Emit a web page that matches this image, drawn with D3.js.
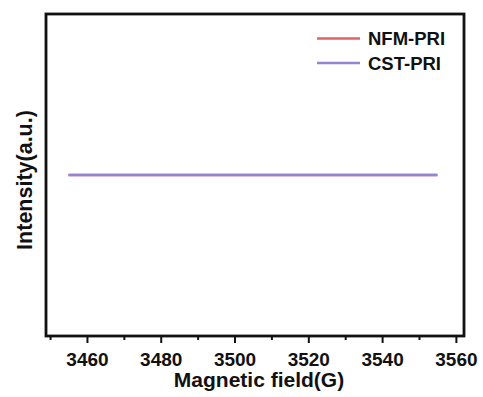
<!DOCTYPE html>
<html>
<head>
<meta charset="utf-8">
<script src="https://cdn.jsdelivr.net/npm/d3@7"></script>
<style>
  html, body { margin: 0; padding: 0; background: #fff; }
  text { font-family: "Liberation Sans", Arial, sans-serif; font-weight: bold; fill: #111; }
</style>
</head>
<body>
<svg id="chart" width="483" height="397"></svg>
<script>
// Magnetic field sweep (G) and EPR intensity for each sample
const fieldG = [3455, 3465, 3475, 3485, 3495, 3505, 3515, 3525, 3535, 3545, 3555];
const nfmPri = [0, 0, 0, 0, 0, 0, 0, 0, 0, 0, 0];
const cstPri = [0, 0, 0, 0, 0, 0, 0, 0, 0, 0, 0];
const seriesNames = ["NFM-PRI", "CST-PRI"];
const seriesColors = ["#e06464", "#9584d2"];
const majorTicks = [3460, 3480, 3500, 3520, 3540, 3560];
const minorTicks = [3450, 3470, 3490, 3510, 3530, 3550];

const svg = d3.select("#chart");
const m = { left: 46, right: 19, top: 14, bottom: 61 };
const W = 483, H = 397;
const FONT = "'Liberation Sans', Arial, sans-serif";

const x = d3.scaleLinear().domain([3448.9, 3562.2]).range([m.left, W - m.right]);
const y = d3.scaleLinear().domain([-1, 1]).range([H - m.bottom, m.top]);

// x axis: major ticks with labels, minor ticks without
const gx = svg.append("g").attr("transform", `translate(0,${H - m.bottom})`);
gx.call(d3.axisBottom(x).tickValues(majorTicks).tickSize(7).tickPadding(0).tickFormat(d3.format("d")));
gx.select(".domain").remove();
gx.selectAll(".tick line").attr("stroke", "#111").attr("stroke-width", 2);
gx.selectAll(".tick text")
  .attr("y", 30).attr("dy", null)
  .style("font-size", "19px").style("font-family", FONT).style("font-weight", "bold")
  .attr("fill", "#111");

const gm = svg.append("g").attr("transform", `translate(0,${H - m.bottom})`);
gm.call(d3.axisBottom(x).tickValues(minorTicks).tickSize(4).tickFormat(""));
gm.select(".domain").remove();
gm.selectAll(".tick line").attr("stroke", "#111").attr("stroke-width", 2);

// data lines
const line = d3.line().x((d, i) => x(fieldG[i])).y(d => y(d));
[nfmPri, cstPri].forEach((vals, k) => {
  svg.append("path").datum(vals)
    .attr("fill", "none")
    .attr("stroke", seriesColors[k])
    .attr("stroke-width", 2.6)
    .attr("d", line);
});

// frame
svg.append("rect")
  .attr("x", m.left).attr("y", m.top)
  .attr("width", W - m.left - m.right).attr("height", H - m.top - m.bottom)
  .attr("fill", "none").attr("stroke", "#111").attr("stroke-width", 2.8);

// legend
const lg = svg.append("g");
seriesNames.forEach((name, k) => {
  const ly = 38.5 + k * 24.5;
  lg.append("line").attr("x1", 317).attr("x2", 360).attr("y1", ly).attr("y2", ly)
    .attr("stroke", seriesColors[k]).attr("stroke-width", 2.6);
  lg.append("text").attr("x", 368).attr("y", ly + 6.5).style("font-size", "18.5px").text(name);
});

// axis titles
svg.append("text").attr("x", 259).attr("y", 387)
  .attr("text-anchor", "middle").style("font-size", "21px").text("Magnetic field(G)");
svg.append("text").attr("transform", `translate(32,180) rotate(-90)`)
  .attr("text-anchor", "middle").style("font-size", "21.5px").text("Intensity(a.u.)");
</script>
</body>
</html>
